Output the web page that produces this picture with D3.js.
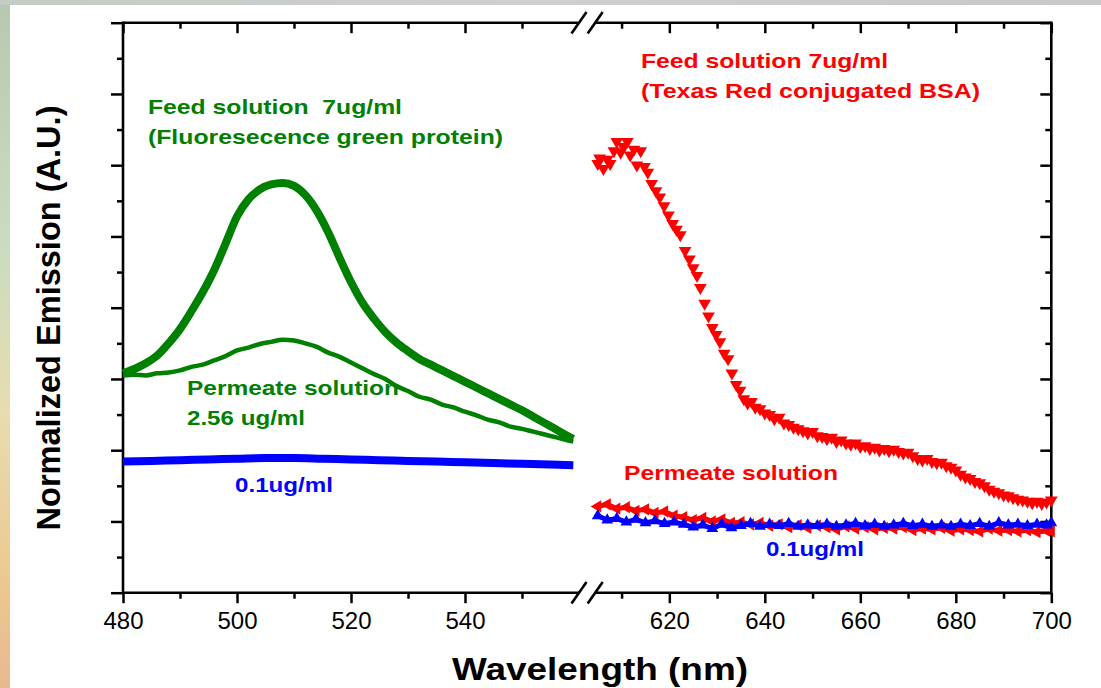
<!DOCTYPE html>
<html>
<head>
<meta charset="utf-8">
<script src="https://cdn.jsdelivr.net/npm/d3@7"></script>
<style>
body{margin:0;background:#fff;overflow:hidden}
svg text{font-family:"Liberation Sans",Arial,sans-serif;white-space:pre}
</style>
</head>
<body>
<svg id="chart" width="1101" height="688"></svg>
<script>
// wavelength (nm), normalized emission (A.U.)

var greenFeed = [[480,3.08],[482,3.14],[484,3.22],[486,3.33],[488,3.50],[490,3.70],[492,3.95],[494,4.22],
  [496,4.53],[498,4.90],[500,5.28],[502,5.52],[504,5.66],[506,5.73],[508,5.75],[510,5.71],[512,5.58],
  [514,5.36],[516,5.06],[518,4.70],[520,4.36],[522,4.07],[524,3.85],[526,3.66],[528,3.51],[530,3.39],
  [532,3.28],[534,3.20],[536,3.12],[538,3.04],[540,2.96],[542,2.88],[544,2.80],[546,2.72],[548,2.64],
  [550,2.56],[552,2.47],[554,2.38],[556,2.29],[558,2.20],[559,2.16]];

var greenPermeate = [[480,3.05],[482,3.06],[484,3.05],[486,3.08],[488,3.09],[490,3.12],[492,3.17],[494,3.20],
  [496,3.26],[498,3.32],[500,3.40],[502,3.44],[504,3.49],[506,3.52],[508,3.55],[510,3.54],[512,3.50],
  [514,3.45],[516,3.37],[518,3.31],[520,3.23],[522,3.15],[524,3.07],[526,3.00],[528,2.90],[530,2.83],
  [532,2.75],[534,2.71],[536,2.64],[538,2.60],[540,2.54],[542,2.49],[544,2.43],[546,2.39],[548,2.33],
  [550,2.30],[552,2.26],[554,2.22],[556,2.18],[558,2.14],[559,2.12]];

var blueLeft = [[480,1.84],[485,1.85],[490,1.86],[495,1.87],[500,1.88],[505,1.89],[510,1.89],[515,1.88],
  [520,1.87],[525,1.86],[530,1.85],[535,1.84],[540,1.83],[545,1.82],[550,1.81],[555,1.80],[559,1.79]];

var redFeed = [[605.0,6.02],[605.4,6.10],[606.2,5.95],[607.0,6.08],[607.6,6.02],[608.4,6.20],[609.0,6.33],
  [609.8,6.18],[610.4,6.26],[611.2,6.33],[611.8,6.14],[612.6,6.22],[613.2,6.00],[614.0,6.20],[614.8,5.98],
  [615.5,5.90],[616.3,5.74],[617.2,5.64],[618.0,5.55],[618.9,5.43],[619.8,5.30],[620.7,5.18],[621.5,5.10],
  [622.3,5.02],[623.3,4.80],[624.2,4.68],[625.0,4.56],[625.8,4.45],[626.5,4.28],[627.4,4.06],[628.2,3.88],
  [629.0,3.72],[629.8,3.62],[630.6,3.52],[631.5,3.36],[632.3,3.28],[633.1,3.08],[634.0,2.92],[634.8,2.84],
  [635.6,2.72],[636.4,2.66],[637.2,2.68],[638,2.60],[639,2.58],[640,2.52],[641,2.50],[642,2.44],[643,2.46],
  [644,2.38],[645,2.36],[646,2.32],[647,2.30],[648,2.27],[649,2.24],[650,2.26],[651,2.20],[652,2.19],
  [653,2.16],[654,2.18],[655,2.12],[656,2.14],[657,2.10],[658,2.08],[659,2.10],[660,2.05],[661,2.06],
  [662,2.02],[663,2.04],[664,2.00],[665,2.02],[666,1.99],[667,2.01],[668,1.98],[669,1.96],[670,1.97],
  [671,1.92],[672,1.88],[673,1.86],[674,1.88],[675,1.84],[676,1.82],[677,1.83],[678,1.78],[679,1.76],
  [680,1.72],[681,1.66],[682,1.62],[683,1.60],[684,1.56],[685,1.54],[686,1.50],[687,1.45],[688,1.42],
  [689,1.40],[690,1.37],[691,1.36],[692,1.33],[693,1.31],[694,1.30],[695,1.28],[696,1.26],[697,1.28],
  [698,1.25],[699,1.27],[700,1.30]];

var redPermeate = [[605,1.21],[607,1.24],[609,1.18],[611,1.20],[613,1.15],[615,1.17],[617,1.12],[619,1.14],
  [621,1.08],[623,1.06],[625,1.02],[627,1.05],[629,1.00],[631,1.03],[633,0.98],[635,0.99],[637,0.96],
  [639,0.98],[641,0.94],[643,0.96],[645,0.92],[647,0.95],[649,0.91],[651,0.94],[653,0.92],[655,0.89],
  [657,0.93],[659,0.90],[661,0.92],[663,0.89],[665,0.91],[667,0.90],[669,0.92],[671,0.88],[673,0.90],
  [675,0.89],[677,0.91],[679,0.87],[681,0.89],[683,0.88],[685,0.86],[687,0.90],[689,0.87],[691,0.88],
  [693,0.86],[695,0.88],[697,0.85],[699,0.87],[700,0.86]];

var blueRight = [[605,1.08],[607,1.02],[609,1.04],[611,0.99],[613,1.03],[615,0.98],[617,1.01],[619,0.97],
  [621,0.99],[623,0.96],[625,0.92],[627,0.95],[629,0.90],[631,0.96],[633,0.91],[635,0.94],[637,0.97],
  [639,0.93],[641,0.96],[643,0.94],[645,0.97],[647,0.93],[649,0.95],[651,0.94],[653,0.96],[655,0.93],
  [657,0.95],[659,0.97],[661,0.94],[663,0.96],[665,0.93],[667,0.95],[669,0.97],[671,0.94],[673,0.96],
  [675,0.93],[677,0.95],[679,0.93],[681,0.96],[683,0.94],[685,0.97],[687,0.93],[689,0.98],[691,0.95],
  [693,0.96],[695,0.94],[697,0.96],[699,0.95],[700,0.98]];

// ticks
var leftMajor = [480,500,520,540];
var leftMinor = [490,510,530,550];
var rightMajor = [620,640,660,680,700];
var rightMinor = [610,630,650,670,690];
var yMajor = [0,1,2,3,4,5,6,7,8];
var yMinor = [0.5,1.5,2.5,3.5,4.5,5.5,6.5,7.5];

var GREEN = "#008000", RED = "#ff0000", BLUE = "#0000ff";

var svg = d3.select("#chart");

// picture background behind the white panel
var defs = svg.append("defs");
var lg = defs.append("linearGradient").attr("id","leftbg").attr("x1",0).attr("y1",0).attr("x2",0).attr("y2",1);
lg.append("stop").attr("offset","0%").attr("stop-color","#b8c8b0");
lg.append("stop").attr("offset","35%").attr("stop-color","#c9dcc0");
lg.append("stop").attr("offset","60%").attr("stop-color","#e8dcb0");
lg.append("stop").attr("offset","85%").attr("stop-color","#ecc890");
lg.append("stop").attr("offset","100%").attr("stop-color","#e8b890");
var tg = defs.append("linearGradient").attr("id","topbg").attr("x1",0).attr("y1",0).attr("x2",1).attr("y2",0);
tg.append("stop").attr("offset","0%").attr("stop-color","#c4ccc4");
tg.append("stop").attr("offset","50%").attr("stop-color","#cfcfcf");
tg.append("stop").attr("offset","100%").attr("stop-color","#c8c8c8");

svg.append("rect").attr("x",0).attr("y",0).attr("width",1101).attr("height",688).attr("fill","url(#leftbg)");
svg.append("rect").attr("x",0).attr("y",0).attr("width",1101).attr("height",5).attr("fill","url(#topbg)");
svg.append("rect").attr("x",10).attr("y",5).attr("width",1091).attr("height",683).attr("fill","#fff");

// broken x axis: two linear pieces
var xL = d3.scaleLinear().domain([480,560]).range([123,579]);
var xR = d3.scaleLinear().domain([605,700]).range([597.7,1051.3]);
var y = d3.scaleLinear().domain([0,8]).range([592.7,22.7]);

var yTop = y(8), yBot = y(0), xLeft = 123, xRight = xR(700);

var styleAxis = function(g){
  g.select(".domain").remove();
  g.selectAll(".tick line").attr("stroke","#000").attr("stroke-width",2.5);
  g.selectAll(".tick text").attr("fill","#000").attr("font-size",24)
    .attr("font-family","'Liberation Sans', Arial, sans-serif");
};

var axes = svg.append("g");
[[xL,leftMajor,leftMinor],[xR,rightMajor,rightMinor]].forEach(function(p){
  axes.append("g").attr("transform","translate(0,"+yBot+")")
    .call(d3.axisBottom(p[0]).tickValues(p[1]).tickSize(10.5).tickPadding(9).tickFormat(d3.format("d")))
    .call(styleAxis);
  axes.append("g").attr("transform","translate(0,"+yBot+")")
    .call(d3.axisBottom(p[0]).tickValues(p[2]).tickSize(6).tickFormat(""))
    .call(styleAxis);
  axes.append("g").attr("transform","translate(0,"+yTop+")")
    .call(d3.axisTop(p[0]).tickValues(p[1]).tickSize(-10.5).tickFormat(""))
    .call(styleAxis);
  axes.append("g").attr("transform","translate(0,"+yTop+")")
    .call(d3.axisTop(p[0]).tickValues(p[2]).tickSize(-6).tickFormat(""))
    .call(styleAxis);
});
axes.append("g").attr("transform","translate("+xLeft+",0)")
  .call(d3.axisLeft(y).tickValues(yMajor).tickSize(12).tickFormat("")).call(styleAxis);
axes.append("g").attr("transform","translate("+xLeft+",0)")
  .call(d3.axisLeft(y).tickValues(yMinor).tickSize(6).tickFormat("")).call(styleAxis);
axes.append("g").attr("transform","translate("+xRight+",0)")
  .call(d3.axisRight(y).tickValues(yMajor).tickSize(-11).tickFormat("")).call(styleAxis);
axes.append("g").attr("transform","translate("+xRight+",0)")
  .call(d3.axisRight(y).tickValues(yMinor).tickSize(-6).tickFormat("")).call(styleAxis);

// frame with the break
var frame = svg.append("g").attr("stroke","#000").attr("stroke-width",2.6).attr("fill","none");
var brk1 = xL(560), brk2 = xR(605) - 2.5;
frame.append("line").attr("x1",xLeft).attr("x2",xLeft).attr("y1",yTop-1.3).attr("y2",yBot+1.3);
frame.append("line").attr("x1",xRight).attr("x2",xRight).attr("y1",yTop-1.3).attr("y2",yBot+1.3);
[yTop,yBot].forEach(function(yy){
  frame.append("line").attr("x1",xLeft).attr("x2",brk1).attr("y1",yy).attr("y2",yy);
  frame.append("line").attr("x1",brk2).attr("x2",xRight).attr("y1",yy).attr("y2",yy);
  [brk1,brk2].forEach(function(xx){
    frame.append("line").attr("x1",xx-7.5).attr("y1",yy+10.8).attr("x2",xx+7.5).attr("y2",yy-10.8);
  });
});

// series
var lineL = d3.line().x(function(d){return xL(d[0]);}).y(function(d){return y(d[1]);}).curve(d3.curveMonotoneX);
var lineR = d3.line().x(function(d){return xR(d[0]);}).y(function(d){return y(d[1]);});

var plot = svg.append("g");
plot.append("path").datum(blueLeft).attr("d",lineL).attr("fill","none")
  .attr("stroke",BLUE).attr("stroke-width",8);
plot.append("path").datum(greenPermeate).attr("d",lineL).attr("fill","none")
  .attr("stroke",GREEN).attr("stroke-width",4.5).attr("stroke-linejoin","round");
plot.append("path").datum(greenFeed).attr("d",lineL).attr("fill","none")
  .attr("stroke",GREEN).attr("stroke-width",8).attr("stroke-linejoin","round");

var tri = function(size){ return d3.symbol().type(d3.symbolTriangle).size(size); };

var drawMarkers = function(data, color, size, angle){
  plot.append("g").selectAll("path").data(data).enter().append("path")
    .attr("d", tri(size))
    .attr("transform",function(d){return "translate("+xR(d[0])+","+y(d[1])+") rotate("+angle+")";})
    .attr("fill",color);
};

plot.append("path").datum(redPermeate).attr("d",lineR).attr("fill","none")
  .attr("stroke",RED).attr("stroke-width",5);
drawMarkers(redPermeate, RED, 65, -90);
plot.append("path").datum(blueRight).attr("d",lineR).attr("fill","none")
  .attr("stroke",BLUE).attr("stroke-width",5);
drawMarkers(blueRight, BLUE, 60, 0);
drawMarkers(redFeed, RED, 70, 180);

// annotations
var notes = [
  {t:"Feed solution  7ug/ml", x:148, y:114, c:GREEN, w:254},
  {t:"(Fluoresecence green protein)", x:148, y:144, c:GREEN, w:355},
  {t:"Permeate solution", x:187, y:395, c:GREEN, w:212},
  {t:"2.56 ug/ml", x:187, y:425, c:GREEN, w:118},
  {t:"0.1ug/ml", x:235, y:492, c:BLUE, w:98},
  {t:"Feed solution 7ug/ml", x:641, y:68, c:RED, w:247},
  {t:"(Texas Red conjugated BSA)", x:641, y:98, c:RED, w:339},
  {t:"Permeate solution", x:624, y:480, c:RED, w:214},
  {t:"0.1ug/ml", x:766, y:556, c:BLUE, w:98}
];
svg.append("g").selectAll("text").data(notes).enter().append("text")
  .attr("x",function(d){return d.x;}).attr("y",function(d){return d.y;})
  .attr("fill",function(d){return d.c;})
  .attr("font-size",21).attr("font-weight","bold")
  .attr("textLength",function(d){return d.w;}).attr("lengthAdjust","spacingAndGlyphs")
  .text(function(d){return d.t;});

// axis titles
svg.append("text").attr("x",600).attr("y",680).attr("text-anchor","middle")
  .attr("font-size",32).attr("font-weight","bold")
  .attr("textLength",296).attr("lengthAdjust","spacingAndGlyphs")
  .text("Wavelength (nm)");
svg.append("text").attr("transform","translate(60,318) rotate(-90)").attr("text-anchor","middle")
  .attr("font-size",33).attr("font-weight","bold")
  .attr("textLength",425).attr("lengthAdjust","spacingAndGlyphs")
  .text("Normalized Emission (A.U.)");
</script>
</body>
</html>
